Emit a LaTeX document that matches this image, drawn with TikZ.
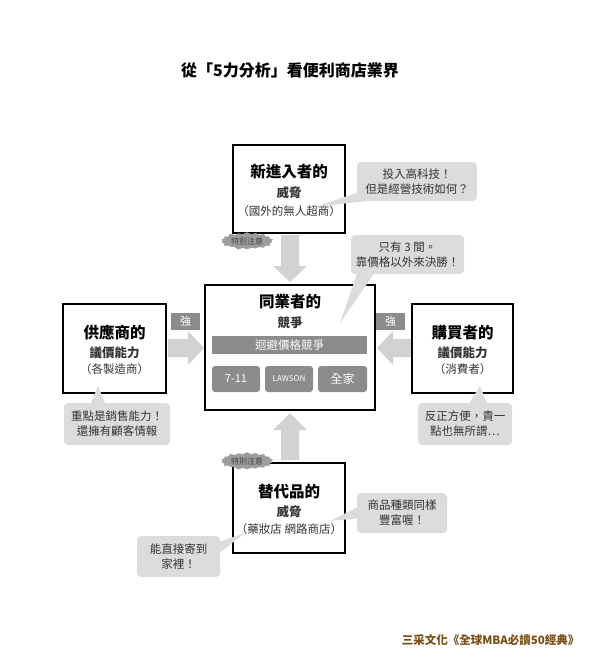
\documentclass[tikz,border=0pt]{standalone}
\usepackage{fontspec}
\setmainfont{Noto Sans CJK TC}
\usetikzlibrary{shapes.symbols,shapes.arrows}
\definecolor{lg}{HTML}{DCDCDC}
\definecolor{ar}{HTML}{D2D2D2}
\definecolor{dg}{HTML}{8C8C8C}
\definecolor{br}{HTML}{7A4E12}
\tikzset{
 forcebox/.style={draw=black,line width=1.2pt,fill=white},
 bubble/.style={fill=lg,rounded corners=4pt},
 btext/.style={font=\fontsize{11.5}{15}\selectfont,align=center,text=black!80},
 big/.style={font=\bfseries\fontsize{15.5}{18}\selectfont},
 mid/.style={font=\bfseries\fontsize{12.5}{15}\selectfont,text=black!80},
 small/.style={font=\fontsize{11.5}{13}\selectfont,text=black!80},
 tag/.style={fill=dg,text=white,font=\fontsize{11}{12}\selectfont,inner sep=0pt},
 chip/.style={fill=dg,rounded corners=3pt,text=white,font=\fontsize{11}{12}\selectfont},
 burst/.style={starburst,starburst points=18,starburst point height=2.5pt,fill=dg!85,draw=dg!85,inner sep=1pt,font=\fontsize{8}{9}\selectfont,text=black!75},
 bigarrow/.style={fill=ar},
}
\begin{document}
\begin{tikzpicture}[x=1pt,y=-1pt]
\useasboundingbox (0,0) rectangle (600,669);
\node[font=\bfseries\fontsize{16}{18}\selectfont] (title) at (290,70) {從「5力分析」看便利商店業界};

% arrows
\fill[bigarrow] (281,235) -- (299,235) -- (299,266) -- (307,266) -- (290,282) -- (273,266) -- (281,266) -- cycle;
\fill[bigarrow] (281,460) -- (299,460) -- (299,430) -- (307,430) -- (290,413) -- (273,430) -- (281,430) -- cycle;
\fill[bigarrow] (168,339) -- (188,339) -- (188,331) -- (204,348) -- (188,365) -- (188,357) -- (168,357) -- cycle;
\fill[bigarrow] (411,339) -- (393,339) -- (393,331) -- (377,348) -- (393,365) -- (393,357) -- (411,357) -- cycle;

% top box
\node[forcebox,minimum width=112,minimum height=88] (top) at (289,189) {};
\node[big] at (289,172) {新進入者的};
\node[mid] at (289,193) {威脅};
\node[small] at (289,211) {（國外的無人超商）};
\node[burst] (b1) at (247,241) {特別注意};

% bottom box
\node[forcebox,minimum width=112,minimum height=90] (bot) at (289,508) {};
\node[big] at (289,492) {替代品的};
\node[mid] at (289,512) {威脅};
\node[small] at (289,529) {（藥妝店 網路商店）};
\node[burst] (b2) at (247,461) {特別注意};

% center
\node[forcebox,minimum width=170,minimum height=125] (ctr) at (290,347.5) {};
\node[big] at (290,302) {同業者的};
\node[mid] at (290,323) {競爭};
\node[fill=dg,minimum width=155,minimum height=18,inner sep=0pt,text=white,font=\fontsize{11.5}{12}\selectfont] (bar) at (289.5,345) {迴避價格競爭};
\node[chip,minimum width=48,minimum height=26] (k1) at (236,379) {7-11};
\node[chip,minimum width=48,minimum height=26,font=\fontsize{8}{9}\selectfont] (k2) at (289,379) {LAWSON};
\node[chip,minimum width=49,minimum height=26,font=\fontsize{12}{13}\selectfont] (k3) at (342.5,379) {全家};

% left
\node[forcebox,minimum width=103,minimum height=89] (lft) at (114.5,348.5) {};
\node[big] at (114.5,333) {供應商的};
\node[mid] at (114.5,353) {議價能力};
\node[small] at (114.5,369) {（各製造商）};
\node[tag,minimum width=29,minimum height=17] (s1) at (185.5,321.5) {強};

% right
\node[forcebox,minimum width=101,minimum height=89] (rgt) at (462.5,348.5) {};
\node[big] at (462.5,333) {購買者的};
\node[mid] at (462.5,353) {議價能力};
\node[small] at (462.5,369) {（消費者）};
\node[tag,minimum width=29,minimum height=17] (s2) at (390.5,321.5) {強};

% callouts with tails
\fill[lg] (365,190) -- (375,200) -- (315,207) -- cycle;
\node[bubble,minimum width=120,minimum height=39] (c1) at (417,181.5) {};
\node[btext] at (c1) {投入高科技！\\但是經營技術如何？};
\fill[lg] (360,265) -- (380,265) -- (340,323) -- cycle;
\node[bubble,minimum width=113,minimum height=39] (c2) at (407.5,254.5) {};
\node[btext] at (c2) {只有 3 間。\\靠價格以外來決勝！};
\fill[lg] (88,410) -- (108,410) -- (98,386) -- cycle;
\node[bubble,minimum width=106,minimum height=42] (c3) at (117,424) {};
\node[btext] at (c3) {重點是銷售能力！\\還擁有顧客情報};
\fill[lg] (465,410) -- (490,410) -- (480,386) -- cycle;
\node[bubble,minimum width=94,minimum height=42] (c4) at (465,424) {};
\node[btext] at (c4) {反正方便，貴一\\點也無所謂…};
\fill[lg] (362,505) -- (362,518) -- (330,521) -- cycle;
\node[bubble,minimum width=90,minimum height=40] (c5) at (402,513) {};
\node[btext] at (c5) {商品種類同樣\\豐富喔！};
\fill[lg] (210,545) -- (210,560) -- (245,533) -- cycle;
\node[bubble,minimum width=83,minimum height=41] (c6) at (178.5,556.5) {};
\node[btext] at (c6) {能直接寄到\\家裡！};

\node[anchor=east,text=br,font=\bfseries\fontsize{11.5}{12}\selectfont] (foot) at (583,640) {三采文化《全球MBA必讀50經典》};
\end{tikzpicture}
\end{document}
